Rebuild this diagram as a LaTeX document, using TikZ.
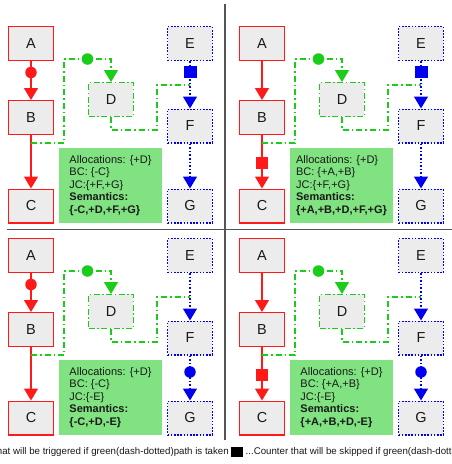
\documentclass[tikz,border=0pt]{standalone}
\usepackage{fontspec}
\setmainfont{Liberation Sans}
\usetikzlibrary{arrows.meta}
\definecolor{rd}{RGB}{255,25,25}
\definecolor{gn}{RGB}{25,205,25}
\definecolor{bl}{RGB}{0,0,240}
\definecolor{nodefill}{RGB}{236,236,236}
\definecolor{boxfill}{RGB}{128,226,128}
\definecolor{sepcol}{RGB}{85,85,85}
\definecolor{txt}{RGB}{25,25,25}
\tikzset{
 basebox/.style={minimum width=44.8pt, minimum height=33.8pt, fill=nodefill, inner sep=0pt,
   line width=1.2pt, font=\fontsize{14.5}{16}\selectfont, text=txt},
 rednode/.style={basebox, draw=rd},
 greennode/.style={basebox, draw=gn, dash pattern=on 6pt off 2.5pt on 1.5pt off 2.5pt},
 bluenode/.style={basebox, draw=bl, dash pattern=on 1.6pt off 1.6pt},
 redline/.style={draw=rd, line width=1.2pt},
 greenline/.style={draw=gn, line width=1.2pt, dash pattern=on 6pt off 3pt on 1.5pt off 3pt},
 blueline/.style={draw=bl, line width=1.2pt, dash pattern=on 1.6pt off 2pt},
 tip/.style={-{Triangle[width=14pt,length=12pt]}},
 infobox/.style={fill=boxfill, minimum width=103pt, minimum height=75pt, inner sep=0pt,
   align=left, font=\fontsize{11}{12.6}\selectfont, text=txt},
 redcirc/.style={circle, fill=rd, minimum size=11.5pt, inner sep=0pt},
 greencirc/.style={circle, fill=gn, minimum size=11.5pt, inner sep=0pt},
 bluecirc/.style={circle, fill=bl, minimum size=11.5pt, inner sep=0pt},
 redsq/.style={rectangle, fill=rd, minimum width=12.5pt, minimum height=12pt, inner sep=0pt},
 bluesq/.style={rectangle, fill=bl, minimum width=12.5pt, minimum height=12pt, inner sep=0pt},
 sepline/.style={draw=sepcol, line width=1.3pt},
 legtext/.style={font=\fontsize{9.7}{11}\selectfont, text=txt, inner sep=0pt},
 legsq/.style={rectangle, fill=black, minimum width=11.5pt, minimum height=10pt, inner sep=0pt}
}
\newcommand\panelbase[6]{%
\begin{scope}[shift={(#2,#3)}]
\node[rednode] (A#1) at (31,43.5) {A};
\node[rednode] (B#1) at (31,117.5) {B};
\node[rednode] (C#1) at (31,206) {C};
\node[greennode] (D#1) at (111,99.5) {D};
\node[bluenode] (E#1) at (190,43.5) {E};
\node[bluenode] (F#1) at (190,126) {F};
\node[bluenode] (G#1) at (190,206) {G};
\node[infobox] (T#1) at (110.5,185.5) {Allocations: \{+D\}\\BC: \{#4\}\\JC:\{#5\}\\\textbf{Semantics:}\\\textbf{\{#6\}}};
\draw[redline,tip] (A#1) -- (B#1);
\draw[redline,tip] (B#1) -- (C#1);
\draw[blueline,tip] (E#1) -- (F#1);
\draw[blueline,tip] (F#1) -- (G#1);
\coordinate (s#1) at (31,143);
\coordinate (j#1) at (190,85);
\draw[greenline,tip] (s#1) -| (64,59) -| (D#1.north);
\draw[greenline] (D#1.south) -- (111,130) -| (157,85) -- (j#1);
\node[greencirc] (gc#1) at (87.5,59) {};
\end{scope}}
\begin{document}
\begin{tikzpicture}[x=1pt,y=-1pt]
\useasboundingbox (0,0) rectangle (452,464);
\fill[white] (0,0) rectangle (452,464);
\panelbase{1}{0}{0}{-C}{+F,+G}{-C,+D,+F,+G}
\panelbase{2}{231}{0}{+A,+B}{+F,+G}{+A,+B,+D,+F,+G}
\panelbase{3}{0}{212}{-C}{-E}{-C,+D,-E}
\panelbase{4}{231}{212}{+A,+B}{-E}{+A,+B,+D,-E}
% marks
\node[redcirc] (rc1) at (31,72.5) {};
\node[bluesq] (bs1) at (190.5,72) {};
\node[redsq] (rs2) at (262,162.5) {};
\node[bluesq] (bs2) at (421.5,72) {};
\node[redcirc] (rc3) at (31,284.5) {};
\node[bluecirc] (bc3) at (190,372) {};
\node[redsq] (rs4) at (262,374.5) {};
\node[bluecirc] (bc4) at (421,372) {};
% separators
\coordinate (v1) at (225,4);
\coordinate (v2) at (225,440);
\coordinate (h1) at (7,229.3);
\coordinate (h2) at (452,229.3);
\draw[sepline] (v1) -- (v2);
\draw[sepline] (h1) -- (h2);
% legend
\node[legsq] (lsq) at (237,452) {};
\node[legtext, anchor=east] (l1) at (229,452) {...Counter that will be triggered if green(dash-dotted)path is taken};
\node[legtext, anchor=west] (l2) at (245.5,452) {...Counter that will be skipped if green(dash-dotted)path is taken};
\end{tikzpicture}
\end{document}
